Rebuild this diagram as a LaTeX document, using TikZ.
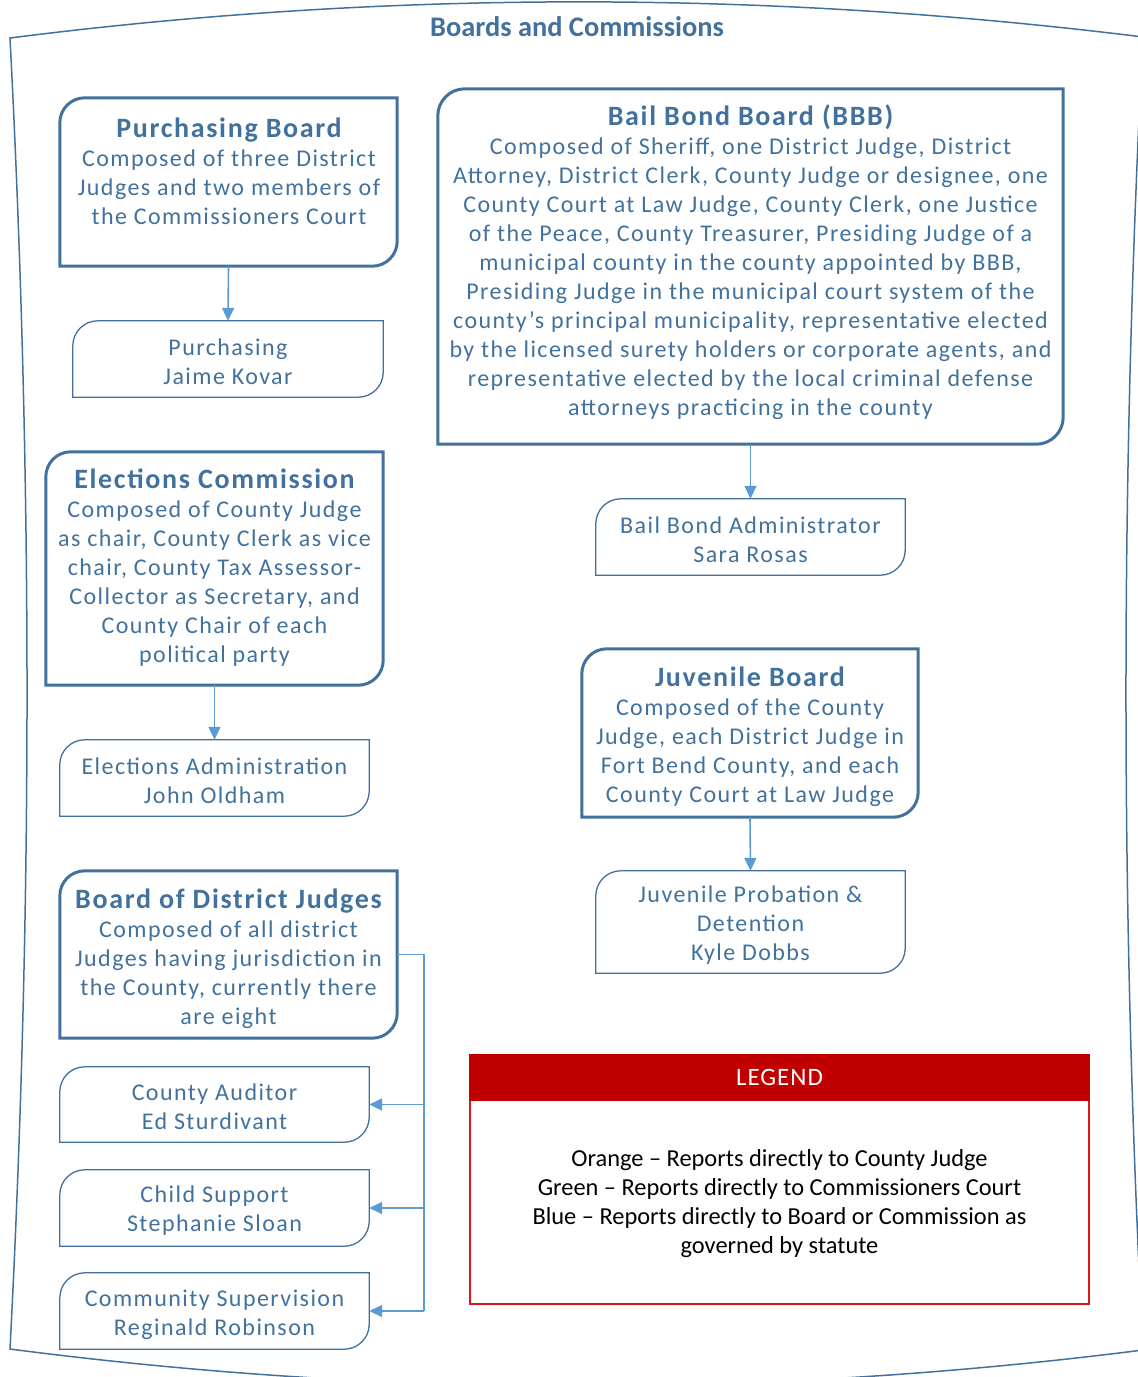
\documentclass[tikz,border=0pt]{standalone}
\usepackage{fontspec}
\setmainfont{Carlito}
\newfontfamily\boxfont[LetterSpace=6]{Carlito}
\newfontfamily\legfont[LetterSpace=4]{Carlito}
\usetikzlibrary{arrows.meta,calc}
\definecolor{dblue}{HTML}{41719C}
\definecolor{lblue}{HTML}{5B9BD5}
\definecolor{lgred}{HTML}{C00000}
\definecolor{lgborder}{HTML}{E0141E}
\newcommand\tlbrbox[3]{\draw[#3] (#1.north east) -- ([yshift=#2]#1.south east) arc[start angle=0,end angle=-90,radius=#2] -- (#1.south west) -- ([yshift=-#2]#1.north west) arc[start angle=180,end angle=90,radius=#2] -- cycle;}
\newcommand\btitle[1]{{\fontsize{28}{31}\selectfont\bfseries #1}}
\tikzset{
  shapebox/.style={draw=none,inner sep=0pt,minimum width=#1},
  thickline/.style={draw=dblue,line width=3pt},
  thinline/.style={draw=dblue,line width=1.3pt},
  boxtext/.style={inner sep=0pt,align=center,text=dblue,font=\boxfont\fontsize{24}{29}\selectfont},
  conn/.style={draw=lblue,line width=1.6pt,-{Triangle[length=13pt,width=12pt]}},
  bus/.style={draw=lblue,line width=1.6pt},
  frameline/.style={draw=dblue,line width=1.5pt}
}
\begin{document}
\begin{tikzpicture}[x=1pt,y=-1pt]
\useasboundingbox (0,0) rectangle (1138,1377);
% outer frame
\draw[frameline] (10,38) .. controls (386,-10) and (766,-10) .. (1143,37)
  .. controls (1120.3,474) and (1120.3,912) .. (1143,1350)
  .. controls (766,1398) and (386,1398) .. (10,1349)
  .. controls (32.7,912) and (32.7,475) .. cycle;
\node[text=dblue,font=\fontsize{28.4}{32}\selectfont\bfseries] (title) at (577,27) {Boards and Commissions};

% box shapes
\node[shapebox=337,minimum height=168] (pb) at (228.5,182) {};
\node[shapebox=310,minimum height=76] (pu) at (228,359) {};
\node[shapebox=337,minimum height=233] (ec) at (214.5,568.5) {};
\node[shapebox=309,minimum height=76] (ea) at (214.5,778) {};
\node[shapebox=337,minimum height=167] (bdj) at (228.5,954.5) {};
\node[shapebox=309,minimum height=75] (ca) at (214.5,1104.5) {};
\node[shapebox=309,minimum height=76] (cs) at (214.5,1208) {};
\node[shapebox=309,minimum height=76] (csu) at (214.5,1311) {};
\node[shapebox=625,minimum height=355] (bbb) at (750.5,266.5) {};
\node[shapebox=309,minimum height=76] (bba) at (750.5,537) {};
\node[shapebox=336,minimum height=168] (jb) at (750,733) {};
\node[shapebox=309,minimum height=102] (jpd) at (750.5,922) {};

\tlbrbox{pb}{25pt}{thickline}
\tlbrbox{pu}{25pt}{thinline}
\tlbrbox{ec}{25pt}{thickline}
\tlbrbox{ea}{25pt}{thinline}
\tlbrbox{bdj}{25pt}{thickline}
\tlbrbox{ca}{25pt}{thinline}
\tlbrbox{cs}{25pt}{thinline}
\tlbrbox{csu}{25pt}{thinline}
\tlbrbox{bbb}{27pt}{thickline}
\tlbrbox{bba}{25pt}{thinline}
\tlbrbox{jb}{25pt}{thickline}
\tlbrbox{jpd}{25pt}{thinline}

% texts
\node[boxtext] (pbt) at (229,171.5) {\btitle{Purchasing Board}\\Composed of three District\\Judges and two members of\\the Commissioners Court};
\node[boxtext] (put) at (228,361.5) {Purchasing\\Jaime Kovar};
\node[boxtext] (ect) at (214.5,567.5) {\btitle{Elections Commission}\\Composed of County Judge\\as chair, County Clerk as vice\\chair, County Tax Assessor-\\Collector as Secretary, and\\County Chair of each\\political party};
\node[boxtext] (eat) at (214.5,780.5) {Elections Administration\\John Oldham};
\node[boxtext] (bdjt) at (228.5,958.5) {\btitle{Board of District Judges}\\Composed of all district\\Judges having jurisdiction in\\the County, currently there\\are eight};
\node[boxtext] (cat) at (214.5,1106.5) {County Auditor\\Ed Sturdivant};
\node[boxtext] (cst) at (214.5,1210.5) {Child Support\\Stephanie Sloan};
\node[boxtext] (csut) at (214.5,1314.5) {Community Supervision\\Reginald Robinson};
\node[boxtext] (bbbt) at (750.5,262.5) {\btitle{Bail Bond Board (BBB)}\\Composed of Sheriff, one District Judge, District\\Attorney, District Clerk, County Judge or designee, one\\County Court at Law Judge, County Clerk, one Justice\\of the Peace, County Treasurer, Presiding Judge of a\\municipal county in the county appointed by BBB,\\Presiding Judge in the municipal court system of the\\county’s principal municipality, representative elected\\by the licensed surety holders or corporate agents, and\\representative elected by the local criminal defense\\attorneys practicing in the county};
\node[boxtext] (bbat) at (750.5,539.5) {Bail Bond Administrator\\Sara Rosas};
\node[boxtext] (jbt) at (750,736.5) {\btitle{Juvenile Board}\\Composed of the County\\Judge, each District Judge in\\Fort Bend County, and each\\County Court at Law Judge};
\node[boxtext] (jpdt) at (750.5,925.5) {Juvenile Probation \&\\Detention\\Kyle Dobbs};

% connectors
\draw[conn] (pb.south) -- (pu.north);
\draw[conn] (ec.south) -- (ea.north);
\draw[conn] (bbb.south) -- (bba.north);
\draw[conn] (jb.south) -- (jpd.north);
\coordinate (busx) at (424,955);
\draw[bus] (bdj.east) -- (busx |- bdj.east) -- (busx |- csu.east);
\draw[conn] (busx |- ca.east) -- (ca.east);
\draw[conn] (busx |- cs.east) -- (cs.east);
\draw[conn] (busx |- csu.east) -- (csu.east);

% legend
\node[draw=lgborder,line width=1.5pt,inner sep=0pt,minimum width=619,minimum height=249] (leg) at (779.5,1179.5) {};
\node[fill=lgred,draw=lgred,line width=1.5pt,inner sep=0pt,minimum width=619,minimum height=45,text=white,font=\legfont\fontsize{25}{28}\selectfont] (legh) at (779.5,1077.5) {LEGEND};
\node[inner sep=0pt,align=center,font=\fontsize{24.4}{29}\selectfont] (legt) at (779.5,1203.5) {Orange – Reports directly to County Judge\\Green – Reports directly to Commissioners Court\\Blue – Reports directly to Board or Commission as\\governed by statute};
\end{tikzpicture}
\end{document}
